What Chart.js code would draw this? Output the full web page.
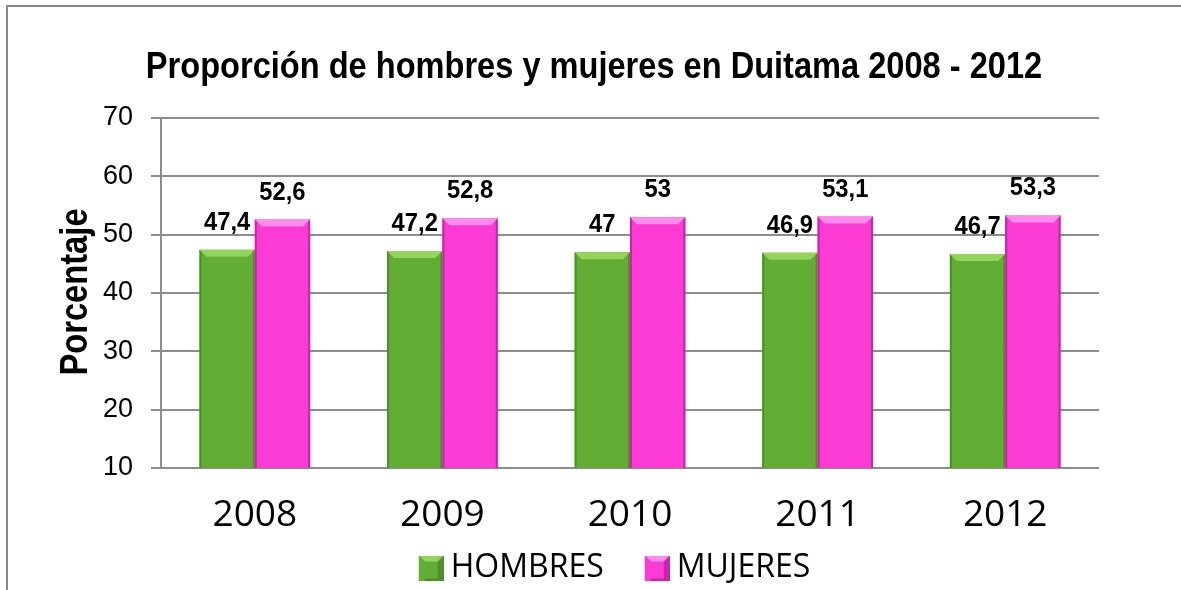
<!DOCTYPE html>
<html>
<head>
<meta charset="utf-8">
<script src="https://cdn.jsdelivr.net/npm/chart.js@4.4.0/dist/chart.umd.min.js"></script>
<style>
  body { margin: 0; background: #fff; }
  #wrap { position: relative; width: 1181px; height: 590px; overflow: hidden; }
  #frame { position: absolute; left: 6px; top: 5px; width: 1300px; height: 700px; border: 2px solid #8a8a8a; pointer-events: none; }
</style>
</head>
<body>
<div id="wrap">
  <canvas id="chart" width="1181" height="590"></canvas>
  <div id="frame"></div>
</div>
<script>
// data
const categories = ['2008', '2009', '2010', '2011', '2012'];
const hombres = [47.4, 47.2, 47, 46.9, 46.7];
const mujeres = [52.6, 52.8, 53, 53.1, 53.3];
const yMin = 10, yMax = 70, yStep = 10;
const chartTitle = 'Proporción de hombres y mujeres en Duitama 2008 - 2012';
const yTitle = 'Porcentaje';

const ARIAL = "'Liberation Sans', Arial, sans-serif";
const SANS = "'Open Sans', 'Noto Sans', sans-serif";

const colors = {
    HOMBRES: { body: '#62ad33', light: '#93d55c', dark: '#4e8f29' },
    MUJERES: { body: '#fc3ad4', light: '#ff8cec', dark: '#c724a8' }
};

// bevelled square for the legend, drawn at the right end of a wider image
// so the swatch sits close to its text
const makeSwatch = (c) => {
    const cv = document.createElement('canvas');
    cv.width = 69; cv.height = 25;
    const g = cv.getContext('2d');
    g.translate(44, 0);
    g.fillStyle = c.dark; g.fillRect(0, 0, 25, 25);
    g.fillStyle = c.light;
    g.beginPath(); g.moveTo(0, 0); g.lineTo(25, 0); g.lineTo(19, 6); g.lineTo(6, 6); g.closePath(); g.fill();
    g.fillStyle = c.body;
    g.fillRect(6, 6, 13, 17);
    g.beginPath(); g.moveTo(0, 1); g.lineTo(6, 6); g.lineTo(6, 25); g.lineTo(0, 25); g.fill();
    return cv;
};

// narrow bold text (Arial Narrow look) by squeezing Liberation Sans
const narrowText = (ctx, text, x, y, size, sx, angle) => {
    ctx.save();
    ctx.translate(x, y);
    if (angle) ctx.rotate(angle);
    ctx.scale(sx, 1);
    ctx.font = 'bold ' + size + 'px ' + ARIAL;
    ctx.fillStyle = '#000';
    ctx.textAlign = 'center';
    ctx.textBaseline = 'alphabetic';
    ctx.fillText(text, 0, 0);
    ctx.restore();
};

const bevelPlugin = {
    id: 'bevel',
    afterDatasetsDraw(chart) {
        const ctx = chart.ctx;
        const bottom = chart.chartArea.bottom;
        chart.data.datasets.forEach((ds, i) => {
            const c = colors[ds.label];
            chart.getDatasetMeta(i).data.forEach(bar => {
                const { x, y, width } = bar.getProps(['x', 'y', 'width'], true);
                const l = x - width / 2, r = x + width / 2, b = 7;
                ctx.save();
                ctx.fillStyle = c.dark;
                ctx.fillRect(l, y, 2, bottom - y);
                ctx.fillRect(r - 2, y, 2, bottom - y);
                ctx.fillStyle = c.light;
                ctx.beginPath();
                ctx.moveTo(l, y); ctx.lineTo(r, y); ctx.lineTo(r - b, y + b); ctx.lineTo(l + b, y + b);
                ctx.closePath(); ctx.fill();
                ctx.restore();
            });
        });
    }
};

const textPlugin = {
    id: 'texts',
    afterDraw(chart) {
        const ctx = chart.ctx;
        narrowText(ctx, chartTitle, 594, 78, 36, 0.905, 0);
        narrowText(ctx, yTitle, 87, 292, 38, 0.86, -Math.PI / 2);
        chart.data.datasets.forEach((ds, i) => {
            chart.getDatasetMeta(i).data.forEach((bar, j) => {
                narrowText(ctx, String(ds.data[j]).replace('.', ','), bar.x, bar.y - 20, 25, 0.95, 0);
            });
        });
    }
};

new Chart(document.getElementById('chart'), {
    type: 'bar',
    data: {
        labels: categories,
        datasets: [
            { label: 'HOMBRES', data: hombres, backgroundColor: colors.HOMBRES.body },
            { label: 'MUJERES', data: mujeres, backgroundColor: colors.MUJERES.body }
        ]
    },
    options: {
        responsive: false,
        animation: false,
        layout: { padding: { left: 95, right: 82, top: 118, bottom: 0 } },
        datasets: { bar: { categoryPercentage: 0.59, barPercentage: 1.0 } },
        scales: {
            x: {
                afterFit: (scale) => { scale.height = 78; },
                grid: { display: false, drawTicks: false },
                border: { display: false },
                ticks: { color: '#000', padding: 25, font: { family: SANS, size: 37 } }
            },
            y: {
                min: yMin, max: yMax,
                afterFit: (scale) => { scale.width = 161 - 95; },
                ticks: { stepSize: yStep, color: '#000', padding: 18, font: { family: ARIAL, size: 27 } },
                grid: { color: '#8c8c8c', lineWidth: 2, tickLength: 10 },
                border: { display: true, color: '#8c8c8c', width: 2 }
            }
        },
        plugins: {
            title: { display: false },
            legend: {
                position: 'bottom',
                maxHeight: 44,
                labels: {
                    color: '#000',
                    usePointStyle: true,
                    pointStyleWidth: 51,
                    boxHeight: 25,
                    padding: 6,
                    font: { family: SANS, size: 32 },
                    generateLabels: (chart) => {
                        const items = Chart.defaults.plugins.legend.labels.generateLabels(chart);
                        items.forEach(it => { it.pointStyle = makeSwatch(colors[it.text]); });
                        return items;
                    }
                }
            },
            tooltip: { enabled: false }
        }
    },
    plugins: [bevelPlugin, textPlugin]
});
</script>
</body>
</html>
